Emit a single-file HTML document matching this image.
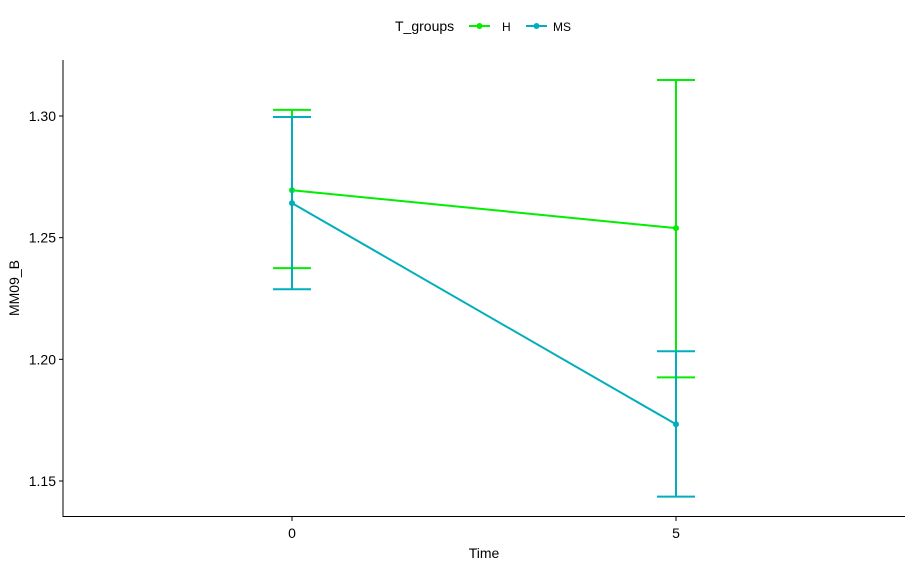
<!DOCTYPE html>
<html><head><meta charset="utf-8"><style>
body{margin:0;background:#fff;}
svg{display:block;font-family:"Liberation Sans",Arial,sans-serif;}
</style></head><body>
<svg id="chart" width="914" height="567">
<g id="plot"></g>
<g>
<line x1="63" y1="60" x2="63" y2="517" stroke="#000" stroke-width="1"/>
<line x1="63" y1="516.5" x2="905" y2="516.5" stroke="#000" stroke-width="1"/>
</g>
<g id="yticks"></g>
<g id="xticks"></g>
<text x="484" y="558" font-size="14" text-anchor="middle" fill="#000">Time</text>
<text transform="translate(19,288) rotate(-90)" font-size="14" text-anchor="middle" fill="#000">MM09_B</text>
<g>
<text x="395" y="31" font-size="14" fill="#000">T_groups</text>
<g>
<line x1="469" y1="26" x2="490" y2="26" stroke="#00EE00" stroke-width="2"/>
<circle cx="479.5" cy="26" r="3" fill="#00EE00"/>
<text x="502" y="31" font-size="12" fill="#000">H</text></g>
<g>
<line x1="526" y1="26" x2="547" y2="26" stroke="#00AFBB" stroke-width="2"/>
<circle cx="536.5" cy="26" r="3" fill="#00AFBB"/>
<text x="553" y="31" font-size="12" fill="#000">MS</text></g>
</g>
</svg>
<script>
const categories=[0,5];
const seriesNames=["H","MS"];
const hMean=[1.2695,1.2539];
const hUpper=[1.3025,1.3148];
const hLower=[1.2375,1.1926];
const msMean=[1.2642,1.1733];
const msUpper=[1.2996,1.2033];
const msLower=[1.2288,1.1436];
const yTicks=[1.15,1.20,1.25,1.30];
const yTickLabels=["1.15","1.20","1.25","1.30"];
const xTickLabels=["0","5"];
const colors={H:"#00EE00",MS:"#00AFBB"};
const NS="http://www.w3.org/2000/svg";
function x(v){return 292+(v-0)*(676-292)/5;}
function y(v){return 116+(1.30-v)*(481-116)/0.15;}
function mk(tag,attrs,parent){const e=document.createElementNS(NS,tag);for(const k in attrs)e.setAttribute(k,attrs[k]);parent.appendChild(e);return e;}
const plot=document.getElementById('plot');
const series=[{n:"H",m:hMean,u:hUpper,l:hLower},{n:"MS",m:msMean,u:msUpper,l:msLower}];
series.forEach(s=>{
  const g=mk('g',{},plot);
  
  
  const c=colors[s.n];
  categories.forEach((t,i)=>{
    const eb=mk('path',{d:`M${x(t)-19},${y(s.u[i])}H${x(t)+19}M${x(t)},${y(s.u[i])}V${y(s.l[i])}M${x(t)-19},${y(s.l[i])}H${x(t)+19}`,stroke:c,'stroke-width':2,fill:'none'},g);
    
    
  });
  const ln=mk('polyline',{points:categories.map((t,i)=>x(t)+','+y(s.m[i])).join(' '),stroke:c,'stroke-width':2,fill:'none'},g);
  
  
  categories.forEach((t,i)=>{
    const p=mk('circle',{cx:x(t),cy:y(s.m[i]),r:3,fill:c},g);
    
    
  });
});
const yt=document.getElementById('yticks');
yTicks.forEach((v,i)=>{
  const l=mk('line',{x1:59,x2:63,y1:y(v),y2:y(v),stroke:'#000'},yt);
  
  
  const t=mk('text',{x:56,y:y(v)+5,'font-size':14,'text-anchor':'end',fill:'#000'},yt);
  t.textContent=yTickLabels[i];
  
  
});
const xt=document.getElementById('xticks');
categories.forEach((v,i)=>{
  const l=mk('line',{x1:x(v),x2:x(v),y1:517,y2:521,stroke:'#000'},xt);
  
  
  const t=mk('text',{x:x(v),y:538,'font-size':14,'text-anchor':'middle',fill:'#000'},xt);
  t.textContent=xTickLabels[i];
  
  
});
</script>
</body></html>
